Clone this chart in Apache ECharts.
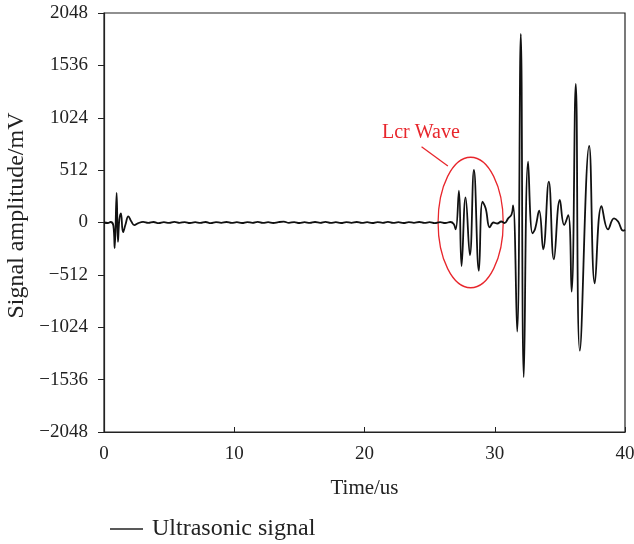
<!DOCTYPE html>
<html>
<head>
<meta charset="utf-8">
<title>Ultrasonic signal</title>
<script src="https://cdn.jsdelivr.net/npm/echarts@6/dist/echarts.min.js"></script>
<style>
  html, body { margin: 0; padding: 0; background: #fff; }
  #chart { width: 634px; height: 544px; }
</style>
</head>
<body>
<div id="chart"></div>
<script>
// time axis (us) and amplitude (mV)
const timeUs = [
  0, 0.3, 0.5, 0.72, 0.82, 0.97, 1.07, 1.18, 1.3, 1.46, 1.65, 1.87, 2.1, 2.33,
  2.6, 3.0, 3.4, 3.8, 4.2, 4.6, 5.0, 5.4, 5.8, 6.2, 6.6, 7.0, 7.4, 7.8, 8.2, 8.6,
  9.0, 9.4, 9.8, 10.2, 10.6, 11.0, 11.4, 11.8, 12.2, 12.6, 13.0, 13.4, 13.8, 14.2,
  14.6, 15.0, 15.4, 15.8, 16.2, 16.6, 17.0, 17.4, 17.8, 18.2, 18.6, 19.0, 19.4,
  19.8, 20.2, 20.6, 21.0, 21.4, 21.8, 22.2, 22.6, 23.0, 23.4, 23.8, 24.2, 24.6,
  25.0, 25.4, 25.8, 26.2, 26.6, 26.85, 27.0, 27.25, 27.45, 27.76, 28.09, 28.4,
  28.78, 29.06, 29.3, 29.62, 29.9, 30.2, 30.5, 30.75, 31.03, 31.29, 31.41, 31.72,
  32.0, 32.23, 32.56, 32.9, 33.1, 33.41, 33.72, 34.15, 34.54, 35.0, 35.33, 35.64,
  35.9, 36.22, 36.53, 37.25, 37.68, 38.2, 38.7, 39.16, 39.47, 39.85, 40
]
const amplitude = [
  0, -5, 5, -30, -250, 290, -190, 30, 90, -95, -20, 60, 10, -25,
  -8, 6, -4, 5, -6, 3, -4, 6, -3, 4, -5, 3, -4, 5, -6, 4,
  -3, 5, -4, 3, -5, 4, -3, 6, -4, 3, -5, 4, 8, -3,
  4, -5, 3, -4, 5, -3, 6, -4, 3, -5, 4, -3, 5,
  -4, 3, -5, 4, -3, 6, -4, 3, -5, 4, -3, 5, -4,
  3, -6, 4, -5, 5, -15, -67, 311, -425, 246, -318, 513,
  -471, 203, 140, -47, 0, -10, 10, -5, 40, 78, 166, -1067,
  1843, -1513, 595, -106, -60, 115, -262, 399, -360, 220, -24, 73,
  -676, 1354, -1253, 748, -595, 161, -67, 41, 10, -80, -70
]
const yTicks = [-2048, -1536, -1024, -512, 0, 512, 1024, 1536, 2048]

// annotation: ellipse [centre t, centre v, radius t, radius v], leader line, label
const lcrEllipse = [28.15, 0, 2.5, 638]
const lcrLine = [[24.38, 741], [26.4, 552]]
const lcrLabel = [24.33, 875]

const signal = timeUs.map((t, i) => [t, amplitude[i]])
const serif = '"Liberation Serif", "Times New Roman", serif'
const red = '#e8262c'

let chart = echarts.init(document.getElementById('chart'))
chart.setOption({
  animation: false,
  textStyle: { fontFamily: serif },
  grid: {
    left: 104,
    right: 9,
    top: 13,
    bottom: 112,
    outerBoundsMode: 'none',
    containLabel: false,
    show: true,
    borderColor: '#222',
    borderWidth: 1.2
  },
  legend: {
    left: 105,
    top: 512,
    icon: 'rect',
    itemWidth: 33,
    itemHeight: 1.4,
    itemStyle: { color: '#222' },
    data: ['Ultrasonic signal'],
    textStyle: { fontFamily: serif, fontSize: 24, color: '#222', padding: [0, 0, 0, 4] }
  },
  xAxis: {
    type: 'value',
    min: 0,
    max: 40,
    interval: 10,
    name: 'Time/us',
    nameLocation: 'middle',
    nameGap: 46,
    nameTextStyle: { fontFamily: serif, fontSize: 21, color: '#222' },
    axisLine: { onZero: false, lineStyle: { color: '#222', width: 1.2 } },
    axisTick: { inside: true, length: 5, lineStyle: { color: '#222' } },
    axisLabel: { fontFamily: serif, fontSize: 19, color: '#222', margin: 13 },
    splitLine: { show: false }
  },
  yAxis: {
    type: 'value',
    min: yTicks[0],
    max: yTicks[yTicks.length - 1],
    interval: 512,
    name: 'Signal amplitude/mV',
    nameLocation: 'middle',
    nameGap: 75,
    nameTextStyle: { fontFamily: serif, fontSize: 24, color: '#222', padding: [0, 0, 0, 14] },
    axisLine: { lineStyle: { color: '#222', width: 1.2 } },
    axisTick: { length: 6, lineStyle: { color: '#222' } },
    axisLabel: {
      fontFamily: serif,
      fontSize: 19,
      color: '#222',
      margin: 16,
      formatter: v => String(v).replace('-', '\u2212')
    },
    splitLine: { show: false }
  },
  series: [
    {
      name: 'Ultrasonic signal',
      type: 'line',
      data: signal,
      symbol: 'none',
      smooth: 0.45,
      lineStyle: { color: '#111', width: 1.8 },
      itemStyle: { color: '#111' }
    },
    {
      name: 'Lcr Wave',
      type: 'custom',
      silent: true,
      data: [lcrEllipse],
      renderItem: function (params, api) {
        let c = api.coord([api.value(0), api.value(1)])
        let s = api.size([api.value(2), api.value(3)])
        let p1 = api.coord(lcrLine[0])
        let p2 = api.coord(lcrLine[1])
        let lp = api.coord(lcrLabel)
        return {
          type: 'group',
          children: [
            {
              type: 'ellipse',
              shape: { cx: c[0], cy: c[1], rx: s[0], ry: s[1] },
              style: { fill: 'none', stroke: red, lineWidth: 1.3 }
            },
            {
              type: 'line',
              shape: { x1: p1[0], y1: p1[1], x2: p2[0], y2: p2[1] },
              style: { stroke: red, lineWidth: 1.3 }
            },
            {
              type: 'text',
              x: lp[0],
              y: lp[1],
              style: {
                text: 'Lcr Wave',
                fill: red,
                font: '20px ' + serif,
                align: 'center',
                verticalAlign: 'middle'
              }
            }
          ]
        }
      }
    }
  ]
})
</script>
</body>
</html>
